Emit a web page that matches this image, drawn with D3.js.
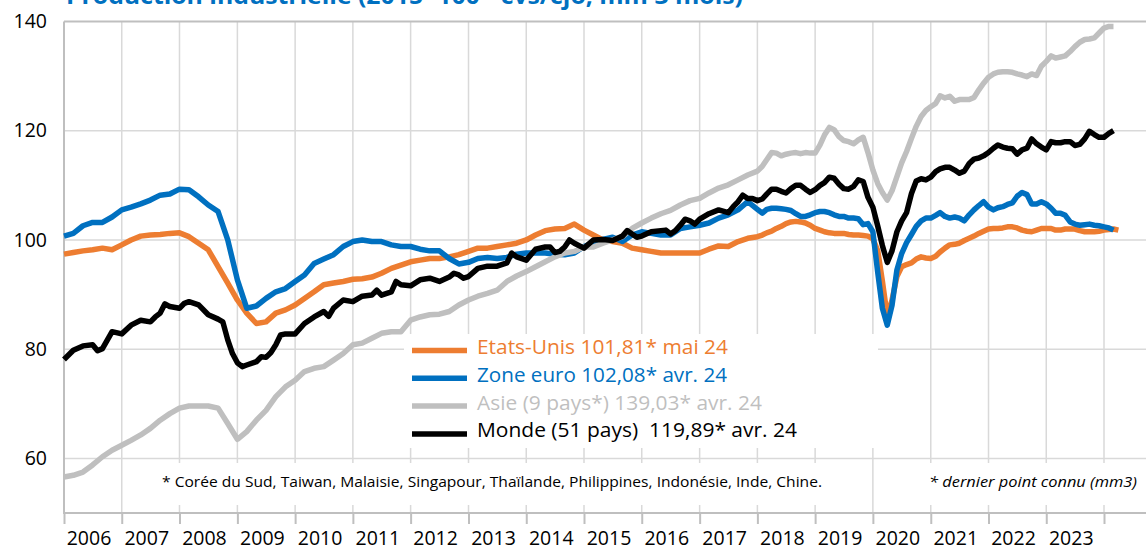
<!DOCTYPE html>
<html>
<head>
<meta charset="utf-8">
<script src="https://cdn.jsdelivr.net/npm/d3@7"></script>
<style>
  body { margin: 0; background: #fff; }
  svg { display: block; font-family: "Open Sans", sans-serif; }
</style>
</head>
<body>
<div id="chart"></div>
<script>
// mois communs (bimestriels jusqu'en 2017, mensuels ensuite)
const mois = [
  "2006-01","2006-03","2006-05","2006-07","2006-09","2006-11",
  "2007-01","2007-03","2007-05","2007-07","2007-09","2007-11",
  "2008-01","2008-03","2008-05","2008-07","2008-09","2008-11",
  "2009-01","2009-03","2009-05","2009-07","2009-09","2009-11",
  "2010-01","2010-03","2010-05","2010-07","2010-09","2010-11",
  "2011-01","2011-03","2011-05","2011-07","2011-09","2011-11",
  "2012-01","2012-03","2012-05","2012-07","2012-09","2012-11",
  "2013-01","2013-03","2013-05","2013-07","2013-09","2013-11",
  "2014-01","2014-03","2014-05","2014-07","2014-09","2014-11",
  "2015-01","2015-03","2015-05","2015-07","2015-09","2015-11",
  "2016-01","2016-03","2016-05","2016-07","2016-09","2016-11",
  "2017-01","2017-03","2017-05","2017-07","2017-09","2017-11",
  "2018-01","2018-02","2018-03","2018-04","2018-05","2018-06","2018-07","2018-08","2018-09","2018-10","2018-11","2018-12",
  "2019-01","2019-02","2019-03","2019-04","2019-05","2019-06","2019-07","2019-08","2019-09","2019-10","2019-11","2019-12",
  "2020-01","2020-02","2020-03","2020-04","2020-05","2020-06","2020-07","2020-08","2020-09","2020-10","2020-11","2020-12",
  "2021-01","2021-02","2021-03","2021-04","2021-05","2021-06","2021-07","2021-08","2021-09","2021-10","2021-11","2021-12",
  "2022-01","2022-02","2022-03","2022-04","2022-05","2022-06","2022-07","2022-08","2022-09","2022-10","2022-11","2022-12",
  "2023-01","2023-02","2023-03","2023-04","2023-05","2023-06","2023-07","2023-08","2023-09","2023-10","2023-11","2023-12",
  "2024-01","2024-02","2024-03","2024-04"
];

const etatsUnis = [
  97.4, 97.7, 98.0, 98.2, 98.5, 98.2,
  99.1, 100.0, 100.7, 100.9, 101.0, 101.2,
  101.3, 100.6, 99.4, 98.2, 95.1, 92.1,
  89.0, 86.6, 84.7, 85.0, 86.6, 87.2,
  88.1, 89.3, 90.5, 91.8, 92.1, 92.4,
  92.8, 92.9, 93.2, 93.9, 94.8, 95.4,
  96.0, 96.3, 96.6, 96.6, 96.9, 97.3,
  97.9, 98.5, 98.5, 98.8, 99.1, 99.4,
  100.0, 100.9, 101.7, 102.0, 102.1, 102.9,
  101.8, 100.9, 100.0, 99.7, 99.4, 98.5,
  98.2, 97.9, 97.6, 97.6, 97.6, 97.6,
  97.6, 98.3, 98.9, 98.8, 99.7, 100.3,
  100.6, 100.9, 101.3, 101.6, 102.1, 102.5, 103.0, 103.3, 103.4, 103.3, 103.1, 102.7,
  102.1, 101.8, 101.5, 101.3, 101.2, 101.2, 101.2, 101.0, 100.9, 100.9, 100.8, 100.7,
  100.2, 98.0, 92.5, 86.0, 89.0, 93.3, 95.1, 95.5, 95.8, 96.5, 96.9, 96.7,
  96.6, 97.0, 97.8, 98.5, 99.1, 99.2, 99.4, 99.9, 100.3, 100.7, 101.2, 101.6,
  102.0, 102.1, 102.1, 102.2, 102.4, 102.4, 102.2, 101.8, 101.6, 101.5, 101.8, 102.1,
  102.1, 102.1, 101.8, 101.8, 102.0, 102.0, 102.0, 101.7, 101.5, 101.5, 101.5, 101.6,
  101.8, 101.9, 102.0, 101.8
];

const zoneEuro = [
  100.7, 101.2, 102.6, 103.2, 103.2, 104.2,
  105.5, 106.0, 106.6, 107.3, 108.2, 108.4,
  109.3, 109.2, 107.9, 106.4, 105.2, 100.0,
  92.7, 87.5, 87.9, 89.3, 90.5, 91.1,
  92.4, 93.6, 95.7, 96.5, 97.3, 98.8,
  99.7, 100.0, 99.7, 99.7, 99.1, 98.8,
  98.8, 98.3, 98.0, 98.0, 96.6, 95.6,
  95.9, 96.6, 96.8, 96.6, 96.8, 97.4,
  97.6, 97.6, 97.6, 97.4, 97.3, 97.6,
  98.8, 99.5, 100.1, 100.5, 99.7, 100.9,
  101.5, 101.2, 100.9, 100.9, 102.1, 102.4,
  102.7, 103.1, 104.0, 104.6, 105.5, 107.0,
  105.6, 104.9, 105.6, 105.8, 105.8, 105.7, 105.6, 105.4, 104.8, 104.3, 104.3, 104.6,
  105.0, 105.2, 105.2, 105.0, 104.6, 104.3, 104.3, 104.0, 104.0, 103.9, 102.8, 103.0,
  101.5, 94.0, 87.5, 84.4, 88.0, 94.5, 97.5, 99.5, 101.0, 102.5, 103.5, 104.0,
  104.0, 104.5, 105.0, 104.3, 104.0, 104.2, 104.0, 103.5, 104.6, 105.5, 106.3, 107.0,
  106.0, 105.5, 105.9, 106.1, 106.5, 106.8, 108.0, 108.7, 108.3, 106.6, 106.6, 107.0,
  106.6, 105.8, 104.9, 104.9, 104.5, 103.3, 102.9, 102.7, 102.8, 102.9, 102.7, 102.6,
  102.4, 102.2, 101.8
];

const asie = [
  56.6, 56.9, 57.5, 58.8, 60.3, 61.5,
  62.4, 63.3, 64.3, 65.5, 67.0, 68.2,
  69.2, 69.6, 69.6, 69.6, 69.2, 66.4,
  63.5, 64.9, 67.0, 68.8, 71.3, 73.1,
  74.3, 75.9, 76.5, 76.8, 78.0, 79.2,
  80.8, 81.1, 82.0, 82.9, 83.2, 83.2,
  85.3, 85.9, 86.3, 86.4, 86.9, 88.1,
  89.0, 89.7, 90.2, 90.8, 92.4, 93.4,
  94.2, 95.1, 96.0, 96.9, 97.6, 97.9,
  98.7, 98.7, 99.4, 100.0, 100.6, 102.1,
  103.1, 104.0, 104.8, 105.4, 106.4, 107.2,
  107.6, 108.6, 109.5, 110.1, 111.0, 111.9,
  112.6, 113.5, 114.7, 116.0, 115.9, 115.4, 115.7, 115.9, 116.0, 115.8, 116.0, 115.9,
  115.9, 117.4, 119.2, 120.6, 120.2, 118.9, 118.2, 118.0, 117.6, 118.3, 118.8, 116.0,
  112.8, 110.3, 108.7, 107.3, 109.0, 111.6, 114.1, 116.2, 118.6, 120.8, 122.6, 123.7,
  124.4, 125.0, 126.4, 126.0, 126.3, 125.4, 125.7, 125.7, 125.7, 126.1, 127.5, 128.7,
  129.8, 130.4, 130.7, 130.8, 130.8, 130.7, 130.4, 130.2, 129.9, 130.4, 130.1, 131.8,
  132.7, 133.7, 133.3, 133.5, 133.7, 134.5, 135.4, 136.2, 136.7, 136.8, 137.0, 137.9,
  138.8, 139.1, 139.1
];

// Monde : relevé plus fin (série plus heurtée)
const moisMonde = [
  "2006-01","2006-03","2006-05","2006-07","2006-08","2006-09","2006-11",
  "2007-01","2007-03","2007-05","2007-07","2007-08","2007-09","2007-10","2007-11",
  "2008-01","2008-02","2008-03","2008-05","2008-07","2008-09","2008-10","2008-11","2008-12",
  "2009-01","2009-02","2009-03","2009-05","2009-06","2009-07","2009-08","2009-09","2009-10","2009-11",
  "2010-01","2010-03","2010-05","2010-07","2010-08","2010-09","2010-11",
  "2011-01","2011-03","2011-05","2011-06","2011-07","2011-09","2011-10","2011-11",
  "2012-01","2012-03","2012-05","2012-07","2012-09","2012-10","2012-11","2012-12",
  "2013-01","2013-03","2013-05","2013-07","2013-09","2013-10","2013-11",
  "2014-01","2014-03","2014-05","2014-06","2014-07","2014-08","2014-09","2014-10","2014-11",
  "2015-01","2015-03","2015-05","2015-07","2015-09","2015-10","2015-11","2015-12",
  "2016-01","2016-03","2016-06","2016-07","2016-08","2016-09","2016-10","2016-11","2016-12",
  "2017-01","2017-03","2017-05","2017-07","2017-08","2017-09","2017-10","2017-11","2017-12",
  "2018-01","2018-02","2018-03","2018-04","2018-05","2018-06","2018-07","2018-08","2018-09","2018-10","2018-11","2018-12",
  "2019-01","2019-02","2019-03","2019-04","2019-05","2019-06","2019-07","2019-08","2019-09","2019-10","2019-11","2019-12",
  "2020-01","2020-02","2020-03","2020-04","2020-05","2020-06","2020-07","2020-08","2020-09","2020-10","2020-11","2020-12",
  "2021-01","2021-02","2021-03","2021-04","2021-05","2021-06","2021-07","2021-08","2021-09","2021-10","2021-11","2021-12",
  "2022-01","2022-02","2022-03","2022-04","2022-05","2022-06","2022-07","2022-08","2022-09","2022-10","2022-11","2022-12",
  "2023-01","2023-02","2023-03","2023-04","2023-05","2023-06","2023-07","2023-08","2023-09","2023-10","2023-11","2023-12",
  "2024-01","2024-02","2024-03"
];

const monde = [
  78.1, 79.8, 80.6, 80.8, 79.7, 80.1, 83.2,
  82.8, 84.4, 85.3, 85.0, 85.9, 86.6, 88.3, 87.8,
  87.5, 88.4, 88.7, 88.1, 86.3, 85.5, 85.0, 81.7, 79.2,
  77.5, 76.8, 77.1, 77.7, 78.6, 78.5, 79.4, 80.8, 82.6, 82.8,
  82.8, 84.7, 85.9, 86.9, 86.0, 87.5, 89.0,
  88.7, 89.7, 89.9, 90.8, 89.9, 90.5, 92.4, 91.8,
  91.6, 92.7, 93.0, 92.4, 93.2, 93.9, 93.6, 93.0,
  93.3, 94.8, 95.2, 95.2, 95.8, 97.6, 96.9,
  96.3, 98.3, 98.7, 98.7, 97.7, 97.9, 98.7, 100.0, 99.4,
  98.5, 100.0, 100.1, 99.9, 100.7, 101.7, 101.1, 100.5,
  100.7, 101.5, 101.8, 101.1, 101.7, 102.7, 103.8, 103.5, 102.9,
  103.8, 104.8, 105.5, 105.0, 106.1, 107.0, 108.2, 107.6, 107.6,
  107.2, 107.5, 108.4, 109.3, 109.3, 108.9, 108.6, 109.4, 110.0, 110.0, 109.3, 108.7,
  109.2, 110.0, 110.5, 111.5, 111.3, 110.2, 109.4, 109.3, 109.8, 111.0, 110.7, 107.8,
  106.0, 102.5, 99.0, 95.9, 98.0, 101.5, 103.5, 105.0, 108.5, 110.8, 111.2, 111.0,
  111.5, 112.5, 113.0, 113.3, 113.3, 112.8, 112.2, 112.6, 114.0, 114.8, 115.0, 115.4,
  116.0, 116.8, 117.4, 117.0, 116.8, 116.7, 115.7, 116.5, 116.8, 118.5, 117.6, 117.0,
  116.5, 118.0, 117.8, 117.8, 118.0, 118.0, 117.3, 117.5, 118.5, 119.9, 119.3, 118.8,
  118.8, 119.5, 120.0
];

const annees = [2006, 2007, 2008, 2009, 2010, 2011, 2012, 2013, 2014, 2015,
                2016, 2017, 2018, 2019, 2020, 2021, 2022, 2023];
const yTicks = [60, 80, 100, 120, 140];

const legende = [
  { nom: "Etats-Unis 101,81* mai 24", couleur: "#ed7d31", len: 251 },
  { nom: "Zone euro 102,08* avr. 24", couleur: "#0070c0", len: 250 },
  { nom: "Asie (9 pays*) 139,03* avr. 24", couleur: "#bfbfbf", len: 285 },
  { nom: "Monde (51 pays)  119,89* avr. 24", couleur: "#000000", len: 320 }
];

const W = 1148, H = 547;
const plot = { left: 64, right: 1146, top: 21.5, bottom: 513 };

const parseMois = d3.timeParse("%Y-%m");

const svg = d3.select('#chart')
  .append('svg')
  .attr('width', W)
  .attr('height', H);

const xScale = d3.scaleTime()
  .domain([new Date(2006, 0, 1), new Date(2024, 0, 1)])
  .range([plot.left, 1104]);

const yScale = d3.scaleLinear()
  .domain([50, 140])
  .range([plot.bottom, plot.top]);

// titre (coupé en haut dans l'original)
svg.append('text')
  .attr('x', 66)
  .attr('y', 4)
  .attr('fill', '#0070c0')
  .attr('font-weight', 'bold')
  .attr('font-size', 24)
  .attr('textLength', 677)
  .attr('lengthAdjust', 'spacingAndGlyphs')
  .text('Production industrielle (2015=100 - cvs/cjo, mm 3 mois)');

// grille
const gridGroup = svg.append('g').attr('id', 'gridGroup');
const tickDates = annees.map(a => new Date(a, 0, 1)).concat([new Date(2024, 0, 1)]);

gridGroup.selectAll('line.v')
  .data(tickDates.slice(1))
  .enter().append('line')
  .attr('class', 'v')
  .attr('x1', d => xScale(d)).attr('x2', d => xScale(d))
  .attr('y1', plot.top).attr('y2', plot.bottom)
  .attr('stroke', '#d9d9d9')
  .attr('stroke-width', 1.5);

gridGroup.selectAll('line.h')
  .data(yTicks)
  .enter().append('line')
  .attr('class', 'h')
  .attr('x1', plot.left).attr('x2', plot.right)
  .attr('y1', d => yScale(d)).attr('y2', d => yScale(d))
  .attr('stroke', d => d === 140 ? '#bfbfbf' : '#d9d9d9')
  .attr('stroke-width', d => d === 140 ? 2 : 1.5);

// cadres blancs des notes
svg.append('rect').attr('x', 150).attr('y', 463).attr('width', 692).attr('height', 42).attr('fill', '#fff');
svg.append('rect').attr('x', 915).attr('y', 463).attr('width', 231).attr('height', 42).attr('fill', '#fff');

svg.append('text')
  .attr('x', 162).attr('y', 487)
  .attr('font-size', 14.5)
  .attr('fill', '#000')
  .attr('textLength', 660)
  .attr('lengthAdjust', 'spacingAndGlyphs')
  .text('* Corée du Sud, Taiwan, Malaisie, Singapour, Thaïlande, Philippines, Indonésie, Inde, Chine.');

svg.append('text')
  .attr('x', 929).attr('y', 487)
  .attr('font-size', 14.5)
  .attr('font-style', 'italic')
  .attr('fill', '#000')
  .attr('textLength', 208)
  .attr('lengthAdjust', 'spacingAndGlyphs')
  .text('* dernier point connu (mm3)');

// axes
const axisGroup = svg.append('g').attr('id', 'axisGroup');

axisGroup.append('line')
  .attr('x1', plot.left).attr('x2', plot.left)
  .attr('y1', plot.top).attr('y2', plot.bottom)
  .attr('stroke', '#bfbfbf').attr('stroke-width', 2);

const xAxis = d3.axisBottom(xScale)
  .tickValues(tickDates)
  .tickSize(11)
  .tickFormat('');

const xAxisGroup = axisGroup.append('g')
  .attr('transform', `translate(0, ${plot.bottom})`)
  .call(xAxis);
xAxisGroup.select('.domain').remove();
xAxisGroup.selectAll('.tick line').attr('stroke', '#bfbfbf').attr('stroke-width', 2);

axisGroup.append('line')
  .attr('x1', plot.left - 1).attr('x2', plot.right)
  .attr('y1', plot.bottom).attr('y2', plot.bottom)
  .attr('stroke', '#bfbfbf').attr('stroke-width', 2);

axisGroup.selectAll('text.annee')
  .data(annees)
  .enter().append('text')
  .attr('class', 'annee')
  .attr('x', d => xScale(new Date(d, 0, 1)) + 25)
  .attr('y', 545)
  .attr('text-anchor', 'middle')
  .attr('font-size', 19.5)
  .attr('fill', '#000')
  .text(d => d);

const yAxis = d3.axisLeft(yScale)
  .tickValues(yTicks)
  .tickSize(0)
  .tickPadding(0);

const yAxisGroup = axisGroup.append('g')
  .attr('transform', 'translate(47, 0)')
  .call(yAxis);
yAxisGroup.select('.domain').remove();
yAxisGroup.selectAll('text')
  .attr('font-family', '"Open Sans", sans-serif')
  .attr('font-size', 19.5)
  .attr('fill', '#000');

// séries
const serie = (dates, valeurs) => valeurs.map((v, i) => ({ date: parseMois(dates[i]), v: v }));

const series = [
  { data: serie(mois, etatsUnis), couleur: '#ed7d31' },
  { data: serie(mois, zoneEuro), couleur: '#0070c0' },
  { data: serie(mois, asie), couleur: '#bfbfbf' },
  { data: serie(moisMonde, monde), couleur: '#000000' }
];

const line = d3.line()
  .x(d => xScale(d.date))
  .y(d => yScale(d.v));

const elementGroup = svg.append('g').attr('id', 'elementGroup');

elementGroup.selectAll('path')
  .data(series)
  .enter().append('path')
  .attr('d', d => line(d.data))
  .attr('fill', 'none')
  .attr('stroke', d => d.couleur)
  .attr('stroke-width', 5.5)
  .attr('stroke-linejoin', 'round');

// légende
const legendGroup = svg.append('g').attr('id', 'legendGroup');
legendGroup.append('rect')
  .attr('x', 404).attr('y', 334)
  .attr('width', 474).attr('height', 114)
  .attr('fill', '#fff');

const lineLegend = legendGroup.selectAll('.lineLegend')
  .data(legende)
  .enter().append('g')
  .attr('class', 'lineLegend')
  .attr('transform', (d, i) => `translate(0, ${i * 27.8})`);

lineLegend.append('line')
  .attr('x1', 412).attr('x2', 467)
  .attr('y1', 350.5).attr('y2', 350.5)
  .attr('stroke', d => d.couleur)
  .attr('stroke-width', 5.5);

lineLegend.append('text')
  .attr('x', 477).attr('y', 354)
  .attr('font-size', 20.5)
  .attr('fill', d => d.couleur)
  .style('white-space', 'pre')
  .attr('textLength', d => d.len)
  .attr('lengthAdjust', 'spacingAndGlyphs')
  .text(d => d.nom);
</script>
</body>
</html>
